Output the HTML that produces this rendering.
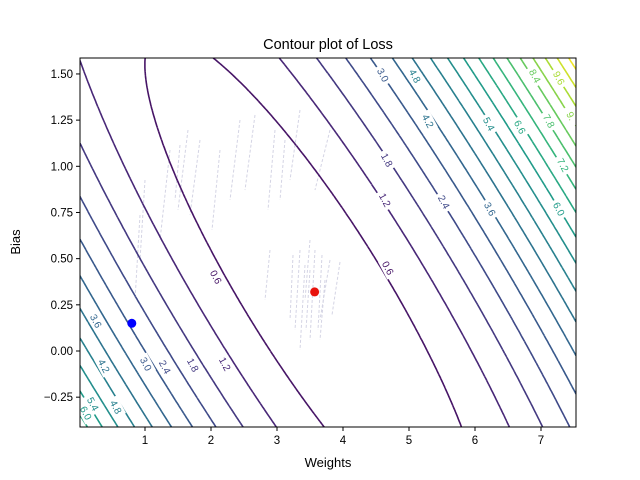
<!DOCTYPE html>
<html><head><meta charset="utf-8"><style>
body{margin:0;background:#fff}
svg{display:block;font-family:"Liberation Sans",sans-serif}
</style></head><body>
<svg id="chart" width="640" height="480">
<rect width="640" height="480" fill="#fff"/>
<text x="328" y="49" font-size="14.5" text-anchor="middle">Contour plot of Loss</text>
<defs><clipPath id="pc"><rect x="80" y="58" width="496" height="369"/></clipPath></defs>
<g id="traj" clip-path="url(#pc)"></g>
<g id="contours" clip-path="url(#pc)"></g>
<g id="labels"></g>
<g id="points"></g>
<rect x="80" y="58" width="496" height="369" fill="none" stroke="#000" stroke-width="1"/>
<g id="axes"></g>
<text x="328" y="467" font-size="13" text-anchor="middle">Weights</text>
<text x="20" y="242" font-size="13" text-anchor="middle" transform="rotate(-90 20 242)">Bias</text>
</svg>
<script>
const levels=[0.6,1.2,1.8,2.4,3.0,3.6,4.2,4.8,5.4,6.0,6.6,7.2,7.8,8.4,9.0,9.6,10.2,10.8];
const lossParams=[3.57,0.32,0.295,0.478,0.16]; // w0,b0,a(mean x^2),c(mean x),Lmin
const xTicks=[1,2,3,4,5,6,7];
const yTicks=[-0.25,0,0.25,0.5,0.75,1.0,1.25,1.5];
const startPoint=[0.8,0.15];
const minPoint=[3.57,0.32];
const labelTexts=["3.0","4.8","8.4","9.6","1.8","4.2","5.4","6.6","7.8","7.2","6.0","3.6","2.4","1.2","0.6","0.6","3.6","3.0","2.4","1.8","1.2","4.2","4.8","5.4","6.0","9."];
const labelPos=[[383,75],[415,76],[535,76],[559,78],[387,160],[428,121],[489,124],[520,127],[549,121],[563,165],[559,209],[490,209],[444,202],[385,200],[388,268],[216,277],[96,321],[146,364],[165,367],[193,365],[225,364],[104,366],[116,407],[93,404],[86,413],[571,116]];
const NS="http://www.w3.org/2000/svg";
const X0=80,X1=576,Y0=58,Y1=427;
const sx=w=>145+(w-1)*66;
const sy=b=>351-b*184.7;
const ix=px=>(px-145)/66+1, iy=py=>(351-py)/184.7;
function loss(w,b){const[w0,b0,a,c,L]=lossParams;const dw=w-w0,db=b-b0;return L+a*dw*dw+2*c*dw*db+db*db;}
function viridis(t){const s=[[68,1,84],[72,40,120],[62,74,137],[49,104,142],[38,130,142],[31,158,137],[53,183,121],[109,205,89],[180,222,44],[253,231,37]];t=Math.max(0,Math.min(1,t))*(s.length-1);const i=Math.min(Math.floor(t),s.length-2),f=t-i;return`rgb(${s[i].map((v,k)=>Math.round(v+(s[i+1][k]-v)*f)).join(',')})`;}
function el(tag,attrs,parent){const e=document.createElementNS(NS,tag);for(const k in attrs)e.setAttribute(k,attrs[k]);parent.appendChild(e);return e;}
const NX=250,NY=190,g=[];
for(let j=0;j<=NY;j++){g[j]=[];for(let i=0;i<=NX;i++){g[j][i]=loss(ix(X0+(X1-X0)*i/NX),iy(Y0+(Y1-Y0)*j/NY));}}
const cg=document.getElementById('contours');
const maxL=11.0;
levels.forEach((lv,li)=>{let d='';
 for(let j=0;j<NY;j++)for(let i=0;i<NX;i++){
  const px=X0+(X1-X0)*i/NX,py=Y0+(Y1-Y0)*j/NY,dx=(X1-X0)/NX,dy=(Y1-Y0)/NY;
  const v=[g[j][i],g[j][i+1],g[j+1][i+1],g[j+1][i]];
  const c=[[px,py],[px+dx,py],[px+dx,py+dy],[px,py+dy]];
  const pts=[];
  for(let k=0;k<4;k++){const a=v[k],b=v[(k+1)%4];if((a<lv)!==(b<lv)){const t=(lv-a)/(b-a);const p=c[k],q=c[(k+1)%4];pts.push([p[0]+(q[0]-p[0])*t,p[1]+(q[1]-p[1])*t]);}}
  for(let k=0;k+1<pts.length;k+=2)d+=`M${pts[k][0].toFixed(1)} ${pts[k][1].toFixed(1)}L${pts[k+1][0].toFixed(1)} ${pts[k+1][1].toFixed(1)}`;
 }
 const p=el('path',{d:d,stroke:viridis(lv/maxL),'stroke-width':1.6,fill:'none'},cg);
 
 
});
const tg=document.getElementById('traj');
const trajSegs=[[140,215,135,300],[170,150,160,240],[180,145,175,200],[240,120,230,200],[300,110,290,180],[330,130,315,190],[300,250,295,330],[330,260,320,320],[270,250,265,300],[285,140,280,200],[188,130,178,210],[200,140,190,215],[255,115,245,190],[275,130,268,210],[310,240,305,300],[315,250,310,340],[322,255,318,330],[340,262,332,315],[305,265,300,350],[293,255,290,320],[325,280,320,340],[145,180,140,260],[220,150,212,230],[310,270,306,330]];
trajSegs.forEach(s=>{const l=el('line',{x1:s[0],y1:s[1],x2:s[2],y2:s[3],stroke:'#d4d4e4','stroke-width':1,'stroke-dasharray':'3,2'},tg);
 
 });
const lg=document.getElementById('labels');
labelTexts.forEach((t,i)=>{const[x,y]=labelPos[i];const lv=parseFloat(t);
 const r=el('rect',{x:x-10,y:y-6,width:20,height:12,fill:'#fff',transform:`rotate(62 ${x} ${y})`},lg);
 
 
 const tx=el('text',{x:x,y:y+3.5,'font-size':10,'text-anchor':'middle',fill:viridis(lv/maxL),transform:`rotate(62 ${x} ${y})`},lg);
 tx.textContent=t;
 
 });
const pg=document.getElementById('points');
const bp=el('circle',{cx:sx(startPoint[0]),cy:sy(startPoint[1]),r:4.5,fill:'#0000ff'},pg);


const rp=el('circle',{cx:sx(minPoint[0]),cy:sy(minPoint[1]),r:4.5,fill:'#e8120c'},pg);


const ag=document.getElementById('axes');
xTicks.forEach(v=>{const x=sx(v);
 const l=el('line',{x1:x,y1:Y1,x2:x,y2:Y1+4,stroke:'#000'},ag);
 
 
 const t=el('text',{x:x,y:Y1+17,'font-size':11.5,'text-anchor':'middle'},ag);t.textContent=String(v);
 
 });
yTicks.forEach(v=>{const y=sy(v);
 const l=el('line',{x1:X0-4,y1:y,x2:X0,y2:y,stroke:'#000'},ag);
 
 
 const t=el('text',{x:X0-7,y:y+4,'font-size':11.5,'text-anchor':'end'},ag);t.textContent=(v<0?'\u2212':'')+Math.abs(v).toFixed(2);
 
 });
</script>
</body></html>
